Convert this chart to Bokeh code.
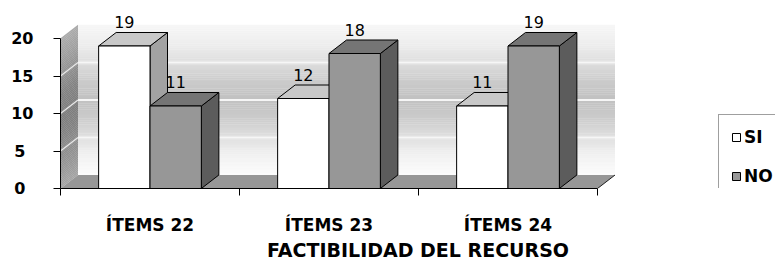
import numpy as np
from bokeh.plotting import figure
from bokeh.models import Range1d, FixedTicker, Legend, LegendItem, ColumnDataSource
from bokeh.core.properties import value
from bokeh.embed import file_html
from bokeh.resources import INLINE

# ---------------- data ----------------
CATEGORIES = ["ÍTEMS 22", "ÍTEMS 23", "ÍTEMS 24"]
SERIES = ["SI", "NO"]
SI_VALUES = [19, 12, 11]
NO_VALUES = [11, 18, 19]
Y_TICKS = [0, 5, 10, 15, 20]
Y_TICK_LABELS = ["0", "5", "10", "15", "20"]
X_TITLE = "FACTIBILIDAD DEL RECURSO"

# ---------------- layout / style ----------------
FIG_W, FIG_H = 775, 264
BORDER_L, BORDER_B = 60, 76
FRAME_W, FRAME_H = FIG_W - BORDER_L, FIG_H - BORDER_B
PX_X = 179.0          # pixels per category unit
PX_Y = 7.5            # pixels per value unit
X_END = FRAME_W / PX_X
Y_END = FRAME_H / PX_Y
DX = 17.5 / PX_X      # 3-D depth offset (x)
DY = 13.5 / PX_Y      # 3-D depth offset (y)
BAR_W = 0.287
Y_MAX = Y_TICKS[-1]
N_CAT = len(CATEGORIES)
FONT = "DejaVu Sans"

FACE = {
    "SI": dict(front="#ffffff", top="#c8c8c8", side="#a2a2a2"),
    "NO": dict(front="#979797", top="#757575", side="#5c5c5c"),
}


def gray(s):
    g = int(round(s))
    return "#%02x%02x%02x" % (g, g, g)


p = figure(width=FIG_W, height=FIG_H,
           x_range=Range1d(0, X_END), y_range=Range1d(0, Y_END),
           min_border_left=BORDER_L, min_border_right=0,
           min_border_top=0, min_border_bottom=BORDER_B,
           toolbar_location=None, output_backend="svg")
p.outline_line_color = None
p.xgrid.visible = False
p.ygrid.visible = False
p.background_fill_color = "white"
p.border_fill_color = "white"

# ---------------- walls (gradient via strips) ----------------
grad_v = [0, 2.5, 5, 7.5, 10, 12.5, 15, 17.5, 20]
grad_c = [252, 242, 224, 204, 193, 203, 222, 238, 246]
side_c = [165, 150, 140, 128, 125, 130, 145, 160, 172]
edges = np.linspace(0, Y_MAX, 81)
mids = (edges[:-1] + edges[1:]) / 2
back_cols = [gray(s) for s in np.interp(mids, grad_v, grad_c)]
side_cols = [gray(s) for s in np.interp(mids, grad_v, side_c)]

p.quad(left=DX, right=N_CAT + DX, bottom=edges[:-1] + DY, top=edges[1:] + DY + 0.02,
       fill_color=back_cols, line_color=None)
side_xs = [[0, 0, DX, DX] for _ in mids]
side_ys = [[a, b + 0.02, b + DY + 0.02, a + DY] for a, b in zip(edges[:-1], edges[1:])]
p.patches(side_xs, side_ys, fill_color=side_cols, line_color=None)

grid_v = [t for t in Y_TICKS if 0 < t < Y_MAX]
p.segment(x0=DX, x1=N_CAT + DX, y0=[v + DY for v in grid_v], y1=[v + DY for v in grid_v],
          line_color="#f6f6f6", line_width=2)
p.segment(x0=0, x1=DX, y0=grid_v, y1=[v + DY for v in grid_v],
          line_color="#e6e6e6", line_width=1.5)

# floor
p.patch([0, N_CAT, N_CAT + DX, DX], [0, 0, DY, DY], fill_color="#979797", line_color=None)
p.segment(x0=N_CAT, y0=0, x1=N_CAT + DX, y1=DY, line_color="#202020", line_width=1)

# ---------------- bars ----------------
legend_items = []
for s, (name, vals) in enumerate(zip(SERIES, [SI_VALUES, NO_VALUES])):
    x0 = [i + 0.5 - BAR_W + s * BAR_W for i in range(N_CAT)]
    x1 = [a + BAR_W for a in x0]
    side_x = [[b, b, b + DX, b + DX] for b in x1]
    side_y = [[0, v, v + DY, DY] for v in vals]
    p.patches(side_x, side_y, fill_color=FACE[name]["side"], line_color="black", line_width=1)
    top_x = [[a, b, b + DX, a + DX] for a, b in zip(x0, x1)]
    top_y = [[v, v, v + DY, v + DY] for v in vals]
    p.patches(top_x, top_y, fill_color=FACE[name]["top"], line_color="black", line_width=1)
    r = p.quad(left=x0, right=x1, bottom=0, top=vals,
               fill_color=FACE[name]["front"], line_color="black", line_width=1)
    legend_items.append(LegendItem(label=name, renderers=[r]))
    src = ColumnDataSource(dict(x=[(a + b) / 2 for a, b in zip(x0, x1)],
                                y=[v + DY + 1.4 for v in vals],
                                t=[str(v) for v in vals]))
    p.text(x="x", y="y", text="t", source=src, text_align="center",
           text_baseline="alphabetic", text_font=value(FONT),
           text_font_size="16px", text_color="black")

# ---------------- axes ----------------
ya = p.yaxis[0]
ya.ticker = FixedTicker(ticks=Y_TICKS, minor_ticks=[])
ya.bounds = (0, Y_MAX)
ya.major_label_overrides = {t: (lab if len(lab) > 1 else lab + "\u2002")
                            for t, lab in zip(Y_TICKS, Y_TICK_LABELS)}
ya.major_tick_out = 7
ya.major_tick_in = 0
ya.major_label_standoff = 20
ya.major_label_text_font = FONT
ya.major_label_text_font_style = "bold"
ya.major_label_text_font_size = "16px"
ya.major_label_text_color = "black"
ya.axis_line_color = "black"
ya.major_tick_line_color = "black"

xa = p.xaxis[0]
centers = [i + 0.5 for i in range(N_CAT)]
xa.ticker = FixedTicker(ticks=centers, minor_ticks=list(range(N_CAT + 1)))
xa.bounds = (0, N_CAT)
xa.major_label_overrides = {c: lab for c, lab in zip(centers, CATEGORIES)}
xa.major_tick_out = 0
xa.major_tick_in = 0
xa.minor_tick_out = 7
xa.minor_tick_in = 0
xa.minor_tick_line_color = "black"
xa.major_label_standoff = 19
xa.major_label_text_font = FONT
xa.major_label_text_font_style = "bold"
xa.major_label_text_font_size = "17px"
xa.major_label_text_color = "black"
xa.axis_line_color = "black"
xa.axis_label = X_TITLE
xa.axis_label_standoff = 1
xa.axis_label_text_font = FONT
xa.axis_label_text_font_style = "bold"
xa.axis_label_text_font_size = "19px"
xa.axis_label_text_color = "black"

# ---------------- legend ----------------
leg = Legend(items=legend_items, location=(658, -11), orientation="vertical",
             border_line_color="#404040", border_line_width=1,
             background_fill_color="white", background_fill_alpha=1,
             padding=12, spacing=19, margin=0,
             glyph_width=10, glyph_height=10, label_standoff=3, label_height=20,
             label_text_font=FONT, label_text_font_style="bold",
             label_text_font_size="17px", label_text_color="black")
p.add_layout(leg, "center")

open("out.html", "w").write(file_html(p, INLINE))
